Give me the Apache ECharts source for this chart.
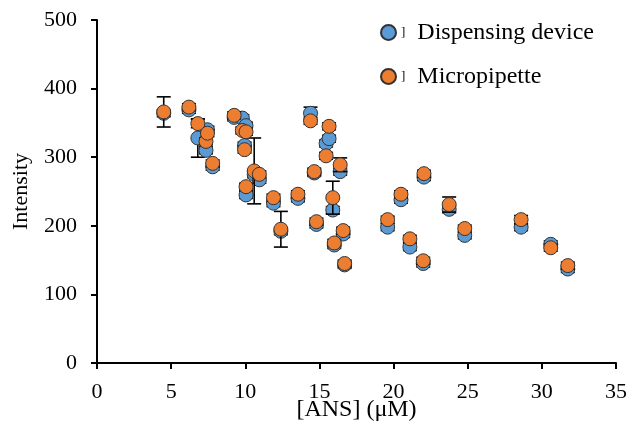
<!DOCTYPE html>
<html>
<head>
<meta charset="utf-8">
<script src="https://cdn.jsdelivr.net/npm/echarts@6/dist/echarts.min.js"></script>
<style>
html,body{margin:0;padding:0;background:#fff;}
#chart{width:630px;height:428px;}
</style>
</head>
<body>
<div id="chart"></div>
<script>
// ANS concentration (uM), same for both series
var ansConc        = [4.5, 6.2, 6.8, 7.35, 7.45, 7.8, 9.25, 9.8, 10.05, 9.95, 10.05, 10.6, 10.95, 11.9, 12.4, 13.55, 14.4, 14.65, 14.8, 15.45, 15.65, 15.9, 16.0, 16.4, 16.6, 16.7, 19.6, 20.5, 21.1, 22.05, 22.0, 23.75, 24.8, 28.6, 30.6, 31.75];
var dispensing     = [364, 369, 328, 310, 340, 286, 358, 357, 346, 317, 245, 275, 267, 233, 192, 240, 364, 277, 202, 320, 327, 223, 172, 279, 188, 143, 198, 238, 169, 271, 145, 224, 186, 198, 173, 137];
var micropipette   = [366, 373, 349, 323, 335, 291, 361, 339, 337, 311, 257, 280, 275, 241, 195, 246, 353, 279, 206, 302, 345, 241, 175, 289, 193, 145, 209, 246, 181, 276, 149, 231, 196, 209, 168, 142];
var dispensingErr  = [5, 5, 28, 5, 5, 5, 5, 5, 5, 5, 5, 5, 5, 5, 5, 5, 9, 5, 5, 5, 5, 5, 5, 5, 5, 5, 5, 5, 5, 5, 5, 5, 5, 5, 5, 5];
var micropipetteErr= [22, 5, 6, 5, 5, 5, 5, 5, 5, 5, 5, 48, 5, 5, 26, 5, 5, 5, 5, 5, 5, 24, 5, 10, 5, 5, 5, 5, 5, 5, 5, 11, 5, 6, 5, 5];

var serif = "'Liberation Serif','DejaVu Serif',serif";

function pts(ys){
	var out = [];
	for(var i=0;i<ansConc.length;i++){ out.push([ansConc[i], ys[i]]); }
	return out;
}
function errPts(ys, es){
	var out = [];
	for(var i=0;i<ansConc.length;i++){ out.push([ansConc[i], ys[i]-es[i], ys[i]+es[i]]); }
	return out;
}
//误差棒
function renderErr(params, api){
	var lo = api.coord([api.value(0), api.value(1)]);
	var hi = api.coord([api.value(0), api.value(2)]);
	var w = 7;
	var st = {stroke:'#000', lineWidth:1.6};
	return {type:'group', children:[
		{type:'line', shape:{x1:lo[0],y1:lo[1],x2:hi[0],y2:hi[1]}, style:st},
		{type:'line', shape:{x1:lo[0]-w,y1:lo[1],x2:lo[0]+w,y2:lo[1]}, style:st},
		{type:'line', shape:{x1:hi[0]-w,y1:hi[1],x2:hi[0]+w,y2:hi[1]}, style:st}
	]};
}

var myChart = echarts.init(document.getElementById('chart'));
var axisLine = {show:true, lineStyle:{color:'#000', width:2}};
var option = {
	animation:false,
	grid:{left:97, right:14, top:20, bottom:65, containLabel:false, outerBoundsMode:'none'},
	legend:{
		orient:'vertical', left:380, top:19, itemGap:17, padding:0,
		itemWidth:15, itemHeight:15,
		data:['Dispensing device','Micropipette'],
		formatter:function(name){ return '{b|]}  ' + name; },
		textStyle:{fontFamily:serif, fontSize:24, color:'#000', lineHeight:27,
			rich:{b:{fontFamily:serif, fontSize:13, color:'#000'}}}
	},
	xAxis:{
		type:'value', min:0, max:35, interval:5,
		name:'[ANS] (μM)', nameLocation:'middle', nameGap:35, nameMoveOverlap:false,
		nameTextStyle:{fontFamily:serif, fontSize:24, color:'#000'},
		axisLine:axisLine, axisTick:{show:true, length:6, lineStyle:{color:'#000', width:2}},
		axisLabel:{fontFamily:serif, fontSize:22, color:'#000', margin:18},
		splitLine:{show:false}
	},
	yAxis:{
		type:'value', min:0, max:500, interval:100,
		name:'Intensity', nameLocation:'middle', nameGap:65, nameRotate:90, nameMoveOverlap:false,
		nameTextStyle:{fontFamily:serif, fontSize:22, color:'#000'},
		axisLine:axisLine, axisTick:{show:true, length:6, lineStyle:{color:'#000', width:2}},
		axisLabel:{fontFamily:serif, fontSize:22, color:'#000', margin:20},
		splitLine:{show:false}
	},
	series:[
		{type:'custom', name:'errD', renderItem:renderErr, data:errPts(dispensing, dispensingErr), z:2, silent:true},
		{type:'scatter', name:'Dispensing device', data:pts(dispensing), symbol:'circle', symbolSize:14, z:3,
			itemStyle:{color:'#5B9BD5', borderColor:'#333', borderWidth:1, opacity:1}},
		{type:'custom', name:'errM', renderItem:renderErr, data:errPts(micropipette, micropipetteErr), z:4, silent:true},
		{type:'scatter', name:'Micropipette', data:pts(micropipette), symbol:'circle', symbolSize:14, z:5,
			itemStyle:{color:'#ED7D31', borderColor:'#333', borderWidth:1, opacity:1}}
	]
};
myChart.setOption(option);
</script>
</body>
</html>
